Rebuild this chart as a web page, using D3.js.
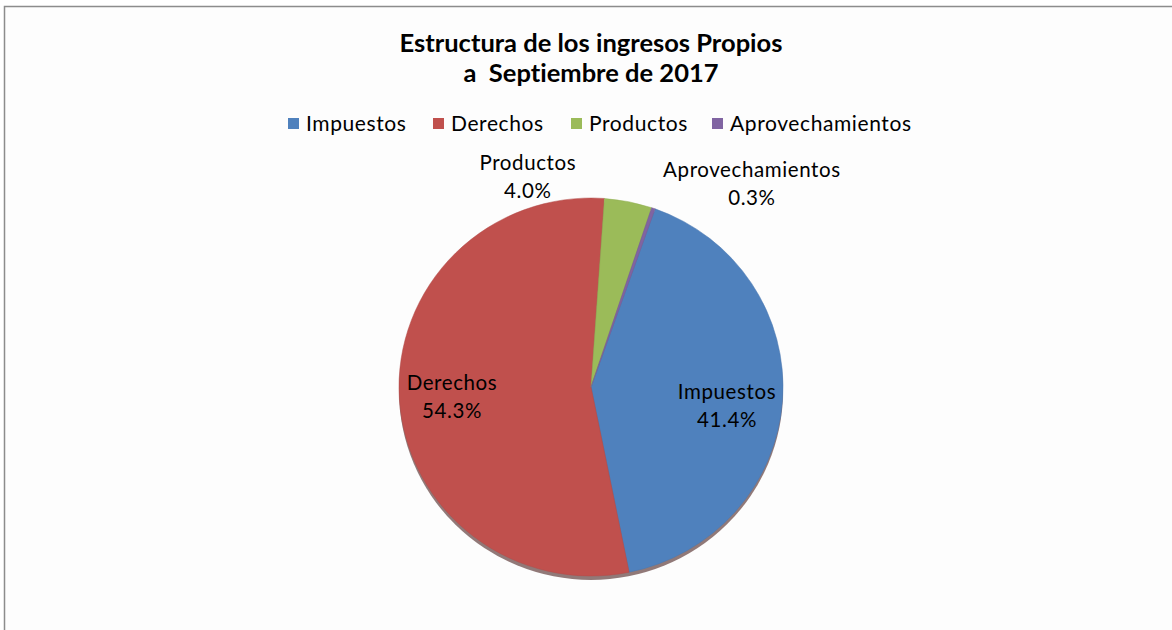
<!DOCTYPE html>
<html>
<head>
<meta charset="utf-8">
<script src="https://cdn.jsdelivr.net/npm/d3@7"></script>
<style>
  body { margin: 0; background: #fff; }
  text { font-family: Lato, "Open Sans", sans-serif; fill: #000; white-space: pre; font-variant-ligatures: none; }
</style>
</head>
<body>
<svg id="chart" width="1172" height="630"></svg>
<script>
// Estructura de los ingresos Propios, septiembre 2017
const categories = ["Impuestos", "Derechos", "Productos", "Aprovechamientos"]
const shares = [41.4, 54.3, 4.0, 0.3]
const colors = ["#4F81BD", "#C0504D", "#9BBB59", "#8064A2"]
const titleLines = ["Estructura de los ingresos Propios", "a  Septiembre de 2017"]

const W = 1172, H = 630
const CX = 591, CY = 387
const RX = 192, RY = 189

var svg = d3.select("#chart")

// chart frame
svg.append("rect")
  .attr("x", 4.5).attr("y", 6.5)
  .attr("width", W + 10).attr("height", H + 10)
  .attr("fill", "#fdfdfd")
  .attr("stroke", "#8c8c8c").attr("stroke-width", 1.5)

// title
svg.append("g").selectAll("text")
  .data(titleLines)
  .join("text")
  .attr("x", CX).attr("y", (d, i) => 52 + i * 30)
  .attr("text-anchor", "middle")
  .attr("font-size", 25.5).attr("font-weight", "bold")
  .text(d => d)

// legend
var legendX = [288, 433, 571, 712]
var legend = svg.append("g").selectAll("g")
  .data(categories)
  .join("g")
  .attr("transform", (d, i) => `translate(${legendX[i]},124)`)
legend.append("rect")
  .attr("x", 0).attr("y", -6).attr("width", 11).attr("height", 11)
  .attr("fill", (d, i) => colors[i])
legend.append("text")
  .attr("x", 18).attr("y", 7)
  .attr("font-size", 21).attr("letter-spacing", 0.6)
  .text(d => d)

// pie, squashed a touch in y
var startA = 19.5 * Math.PI / 180
var pie = d3.pie().sort(null).value(d => d)
  .startAngle(startA).endAngle(startA + 2 * Math.PI)
var arcs = pie(shares)
var arc = d3.arc().innerRadius(0).outerRadius(RX)

var pieG = svg.append("g")
  .attr("transform", `translate(${CX},${CY}) scale(1,${RY / RX})`)

// bottom shadow
pieG.append("ellipse")
  .attr("cx", 0).attr("cy", 4).attr("rx", RX).attr("ry", RX)
  .attr("fill", "#4a2220").attr("opacity", 0.6)

pieG.selectAll("path")
  .data(arcs)
  .join("path")
  .attr("d", arc)
  .attr("fill", (d, i) => colors[i])
  .attr("stroke", (d, i) => d3.color(colors[i]).darker(0.2))
  .attr("stroke-width", 0.5)

// labels
var inner = d3.arc().innerRadius(RX * 0.71).outerRadius(RX * 0.71)
var outer = d3.arc().innerRadius(RX * 1.12).outerRadius(RX * 1.12)
var labelShift = [[0, 9], [-3, 0], [-105, -3], [91, -4]]

var labels = svg.append("g").selectAll("text")
  .data(arcs)
  .join("text")
  .attr("text-anchor", "middle")
  .attr("font-size", 20.5).attr("letter-spacing", 0.6)
  .attr("transform", (d, i) => {
    var c = (d.data > 10 ? inner : outer).centroid(d)
    var x = CX + c[0] + labelShift[i][0]
    var y = CY + c[1] * RY / RX + labelShift[i][1]
    return `translate(${x},${y})`
  })
labels.append("tspan").attr("x", 0).attr("dy", -6).text((d, i) => categories[i])
labels.append("tspan").attr("x", 0).attr("dy", 28).text(d => d.data.toFixed(1) + "%")
</script>
</body>
</html>
